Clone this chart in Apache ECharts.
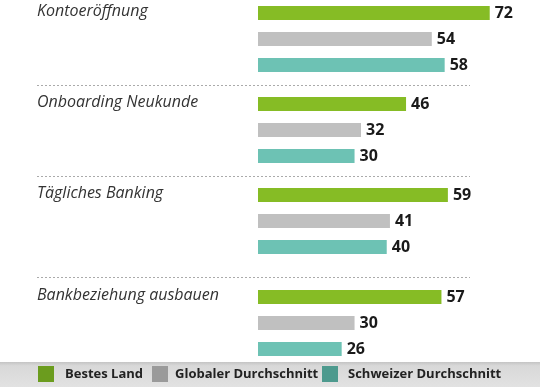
<!DOCTYPE html>
<html>
<head>
<meta charset="utf-8">
<style>html,body{margin:0;padding:0;background:#fff;}#c{width:540px;height:387px;}</style>
<script src="https://cdn.jsdelivr.net/npm/echarts@6/dist/echarts.min.js"></script>
</head>
<body>
<div id="c"></div>
<script>
const categories = ['Kontoeröffnung', 'Onboarding Neukunde', 'Tägliches Banking', 'Bankbeziehung ausbauen'];
const seriesNames = ['Bestes Land', 'Globaler Durchschnitt', 'Schweizer Durchschnitt'];
const bestesLand = [72, 46, 59, 57];
const globalerDurchschnitt = [54, 32, 41, 30];
const schweizerDurchschnitt = [58, 30, 40, 26];

const barColors = ['#86bc25', '#c0c0c0', '#6dc2b4'];
const legendColors = ['#6b9c1e', '#9a9a9a', '#4d9a8e'];
const values = [bestesLand, globalerDurchschnitt, schweizerDurchschnitt];

const gridTops = [0, 91, 182, 284];
const sepY = [85, 176, 277];
const font = '"Open Sans", "Noto Sans", sans-serif';

const grids = [], xAxes = [], yAxes = [], series = [], graphics = [];
categories.forEach((cat, g) => {
  grids.push({ left: 258, width: 280, top: gridTops[g], height: 78, outerBoundsMode: 'none', containLabel: false });
  xAxes.push({ gridIndex: g, type: 'value', min: 0, max: 87, show: false });
  yAxes.push({ gridIndex: g, type: 'category', data: seriesNames, inverse: true, show: false });
  seriesNames.forEach((name, s) => {
    const data = seriesNames.map((_, k) => k === s ? values[s][g] : '-');
    series.push({
      name, type: 'bar', xAxisIndex: g, yAxisIndex: g, data,
      barWidth: 14, barGap: '-100%',
      itemStyle: { color: barColors[s] },
      label: { show: true, position: 'right', distance: 5, color: '#1a1a1a', fontFamily: font, fontWeight: 'bold', fontSize: 16 },
      silent: true, animation: false
    });
  });
  graphics.push({
    type: 'text', left: 37, top: gridTops[g] + 3, style: {
      text: cat, fill: '#333', font: 'italic 16px ' + font
    }
  });
});
sepY.forEach(y => graphics.push({
  type: 'line', shape: { x1: 37, y1: y + 0.5, x2: 470, y2: y + 0.5 },
  style: { stroke: '#aaaaaa', lineWidth: 1, lineDash: [2, 2] }
}));
graphics.unshift({
  type: 'rect', shape: { x: 0, y: 362, width: 540, height: 25 }, z: -10,
  style: { fill: new echarts.graphic.LinearGradient(0, 0, 0, 1, [
    { offset: 0, color: '#c4c4c4' }, { offset: 0.15, color: '#d8d8d8' }, { offset: 1, color: '#e2e2e2' }
  ]) }
});

const legendLeft = [38, 152, 322];
const legends = seriesNames.map((name, s) => ({
  data: [{ name, itemStyle: { color: legendColors[s] } }],
  left: legendLeft[s], top: 366, padding: 0, itemWidth: 16, itemHeight: 16, itemGap: 0,
  icon: 'rect', selectedMode: false,
  textStyle: { color: '#222', fontFamily: font, fontWeight: 'bold', fontSize: 13, padding: [0, 0, 0, s === 0 ? 6 : (s === 1 ? 2 : 5)] }
}));

const chart = echarts.init(document.getElementById('c'));
chart.setOption({
  animation: false,
  grid: grids, xAxis: xAxes, yAxis: yAxes, series,
  legend: legends,
  graphic: graphics
});
</script>
</body>
</html>
